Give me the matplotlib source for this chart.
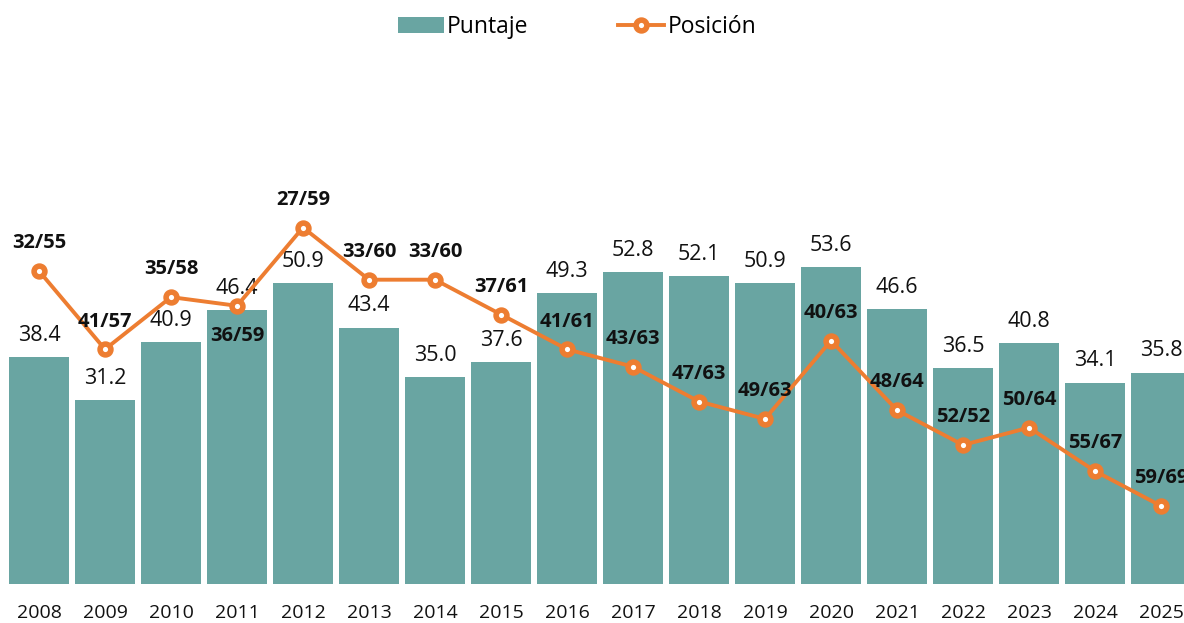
import matplotlib
matplotlib.use("Agg")
import matplotlib.pyplot as plt
from matplotlib.lines import Line2D
from matplotlib.patches import Patch

years = ["2008", "2009", "2010", "2011", "2012", "2013", "2014", "2015", "2016",
         "2017", "2018", "2019", "2020", "2021", "2022", "2023", "2024", "2025"]
puntaje = [38.4, 31.2, 40.9, 46.4, 50.9, 43.4, 35.0, 37.6, 49.3,
           52.8, 52.1, 50.9, 53.6, 46.6, 36.5, 40.8, 34.1, 35.8]
posicion = [32, 41, 35, 36, 27, 33, 33, 37, 41, 43, 47, 49, 40, 48, 52, 50, 55, 59]
total = [55, 57, 58, 59, 59, 60, 60, 61, 61, 63, 63, 63, 63, 64, 52, 64, 67, 69]
label_below = [False, False, False, True, False, False, False, False, False,
               False, False, False, False, False, False, False, False, False]

plt.rcParams['font.family'] = ['Open Sans', 'DejaVu Sans']

BAR = "#69A5A2"
ORANGE = "#ED7D31"

W, H = 1184, 623
fig = plt.figure(figsize=(W / 100, H / 100), dpi=100)
bottom_px = 584.3
top_px = 100
ax = fig.add_axes([0, (H - bottom_px) / H, 1, (bottom_px - top_px) / H])

x = list(range(len(years)))
ax.bar(x, puntaje, width=0.9, color=BAR, zorder=1)
ax.set_xlim(-39 / 66, (W - 39) / 66)
ax.set_ylim(0, (bottom_px - top_px) / 5.915)
for xi, v in zip(x, puntaje):
    ax.annotate(f"{v:.1f}", (xi, v), xytext=(0, 8), textcoords="offset points",
                ha="center", va="bottom", fontsize=15.5, color="#111111")

ax.set_xticks(x)
ax.set_xticklabels(years, fontsize=14, color="#111111")
ax.tick_params(axis="x", length=0, pad=14)
ax.set_yticks([])
for s in ax.spines.values():
    s.set_visible(False)

ax2 = ax.twinx()
ax2.set_position(ax.get_position())
r_top = 32 - (271 - top_px) / 8.70
r_bot = 32 + (bottom_px - 271) / 8.70
mk = dict(color=ORANGE, lw=2.8, marker="o", markersize=7.8,
          markerfacecolor="white", markeredgecolor=ORANGE, markeredgewidth=4.0)
ax2.plot(x, posicion, zorder=3, clip_on=False, **mk)
ax2.set_ylim(r_bot, r_top)
ax2.set_yticks([])
for s in ax2.spines.values():
    s.set_visible(False)
for xi, p, t, below in zip(x, posicion, total, label_below):
    off = (0, -22) if below else (0, 20)
    ax2.annotate(f"{p}/{t}", (xi, p), xytext=off, textcoords="offset points",
                 ha="center", va="center", fontsize=14.5, fontweight="bold",
                 color="#111111", annotation_clip=False)

handles = [Patch(facecolor=BAR, edgecolor="none"), Line2D([0], [0], **mk)]
fig.legend(handles, ["Puntaje", "Posición"], loc="center", bbox_to_anchor=(577 / W, 1 - 27 / H),
           ncol=2, frameon=False, fontsize=16.5, handlelength=2.0, handleheight=0.7,
           handletextpad=0.15, columnspacing=3.9)

fig.savefig("out.png", dpi=100)
